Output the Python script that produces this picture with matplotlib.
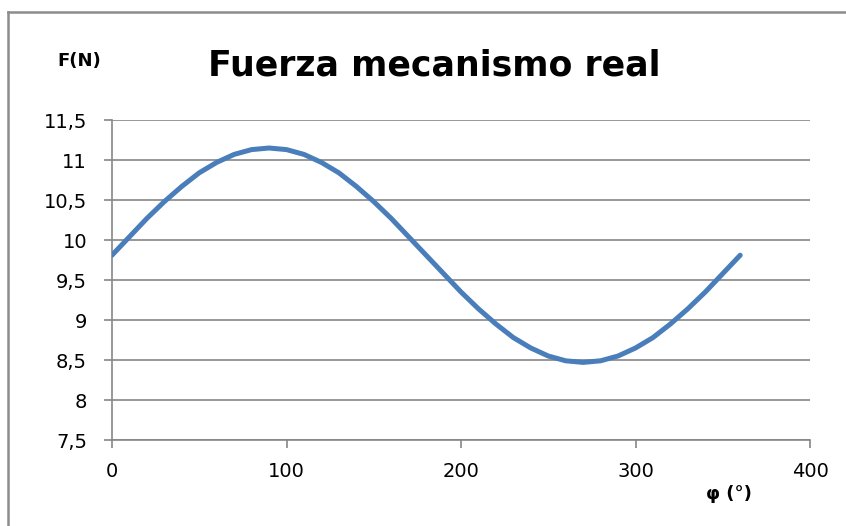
import matplotlib
matplotlib.use("Agg")
import matplotlib.pyplot as plt
from matplotlib.lines import Line2D

phi = [0, 10, 20, 30, 40, 50, 60, 70, 80, 90, 100, 110, 120, 130, 140, 150, 160, 170, 180,
       190, 200, 210, 220, 230, 240, 250, 260, 270, 280, 290, 300, 310, 320, 330, 340, 350, 360]
force = [9.81, 10.04, 10.27, 10.48, 10.67, 10.84, 10.97, 11.07, 11.13, 11.15, 11.13, 11.07, 10.97,
         10.84, 10.67, 10.48, 10.27, 10.04, 9.81, 9.58, 9.35, 9.14, 8.95, 8.78, 8.65, 8.55, 8.49,
         8.47, 8.49, 8.55, 8.65, 8.78, 8.95, 9.14, 9.35, 9.58, 9.81]
x_ticks = [0, 100, 200, 300, 400]
y_ticks = [7.5, 8, 8.5, 9, 9.5, 10, 10.5, 11, 11.5]
y_labels = ["7,5", "8", "8,5", "9", "9,5", "10", "10,5", "11", "11,5"]

plt.rcParams['font.family'] = ['DejaVu Sans']
W, H = 846, 526
fig = plt.figure(figsize=(W / 100, H / 100), dpi=100)
ax = fig.add_axes([112 / W, 1 - 440 / H, (810 - 112) / W, (440 - 120) / H])

grid_c = '#868686'
ax.plot(phi, force, color='#4a7ebb', lw=3.6, solid_capstyle='round',
        solid_joinstyle='round', zorder=3)
ax.set_xlim(0, 400)
ax.set_ylim(7.5, 11.5)
ax.set_xticks(x_ticks)
ax.set_yticks(y_ticks)
ax.set_yticklabels(y_labels)
ax.yaxis.grid(True, color=grid_c, lw=1.2)
for s in ['top', 'right']:
    ax.spines[s].set_visible(False)
for s in ['left', 'bottom']:
    ax.spines[s].set_color(grid_c)
    ax.spines[s].set_linewidth(1.2)
ax.tick_params(axis='both', colors=grid_c, length=6, width=1.2, labelcolor='black', labelsize=14)
ax.tick_params(axis='x', pad=10)
ax.tick_params(axis='y', pad=12)

fig.text(434 / W, 1 - 65 / H, 'Fuerza mecanismo real', ha='center', va='center',
         fontsize=25, fontweight='bold')
fig.text(79 / W, 1 - 61 / H, 'F(N)', ha='center', va='center', fontsize=13, fontweight='bold')
fig.text(729 / W, 1 - 494 / H, 'φ (°)', ha='center', va='center', fontsize=13, fontweight='bold')

fig.add_artist(Line2D([8 / W, 1], [1 - 12 / H, 1 - 12 / H], transform=fig.transFigure,
                      color='#8c8c8c', lw=1.8))
fig.add_artist(Line2D([8 / W, 8 / W], [0, 1 - 12 / H], transform=fig.transFigure,
                      color='#8c8c8c', lw=1.8))

fig.savefig('out.png', dpi=100)
